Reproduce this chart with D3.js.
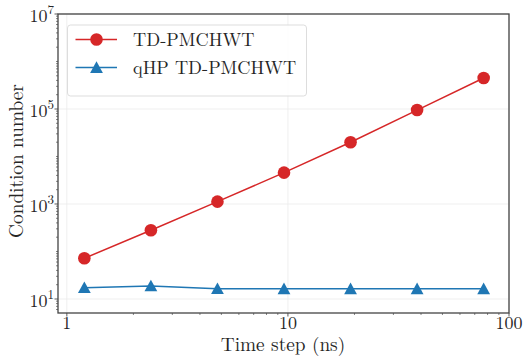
<!DOCTYPE html>
<html>
<head>
<meta charset="utf-8">
<script src="https://cdn.jsdelivr.net/npm/d3@7/dist/d3.min.js"></script>
<style>
  html, body { margin: 0; padding: 0; background: #fff; }
</style>
</head>
<body>
<div id="chart"></div>
<script>
// time steps (ns) and condition numbers
var timeSteps = [1.2, 2.4, 4.8, 9.6, 19.2, 38.4, 76.8];
var condStandard = [72, 280, 1120, 4570, 20000, 95000, 450000];
var condQHP = [17.3, 18.8, 16.5, 16.4, 16.4, 16.4, 16.4];
var seriesNames = ["TD-PMCHWT", "qHP TD-PMCHWT"];
var xTickVals = [1, 10, 100];
var xTickLabels = ["1", "10", "100"];
var yTickExps = [1, 3, 5, 7];

var width = 525, height = 357;
var margin = {top: 14, right: 16, bottom: 44, left: 58};
var serif = "Latin Modern Roman";
var ink = "#262626";

var svg = d3.select("#chart").append("svg")
  .attr("width", width)
  .attr("height", height);

var x = d3.scaleLog().domain([0.912, 100]).range([margin.left, width - margin.right]);
var y = d3.scaleLog().domain([5.07, 1e7]).range([height - margin.bottom, margin.top]);

var x0 = margin.left, x1 = width - margin.right;
var y0 = height - margin.bottom, y1 = margin.top;

// grid
var grid = svg.append("g").attr("stroke", "#ebebeb").attr("stroke-width", 0.8);
grid.selectAll(".gx").data(xTickVals).enter().append("line")
  .attr("x1", function(d) { return x(d); }).attr("x2", function(d) { return x(d); })
  .attr("y1", y0).attr("y2", y1);
grid.selectAll(".gy").data(yTickExps).enter().append("line")
  .attr("y1", function(d) { return y(Math.pow(10, d)); }).attr("y2", function(d) { return y(Math.pow(10, d)); })
  .attr("x1", x0).attr("x2", x1);

// minor ticks
var xMinor = [];
[1, 10].forEach(function(b) { for (var k = 2; k <= 9; k++) xMinor.push(b * k); });
svg.append("g").selectAll("line").data(xMinor).enter().append("line")
  .attr("x1", function(d) { return x(d); }).attr("x2", function(d) { return x(d); })
  .attr("y1", y0).attr("y2", y0 + 2)
  .attr("stroke", "#333").attr("stroke-width", 0.6);

var yMinor = [];
for (var e = 0; e <= 6; e++) {
  for (var k = 1; k <= 9; k++) {
    var v = k * Math.pow(10, e);
    if (v > 5.07 && v < 1e7 && !(k === 1 && e % 2 === 1)) yMinor.push(v);
  }
}
svg.append("g").selectAll("line").data(yMinor).enter().append("line")
  .attr("y1", function(d) { return y(d); }).attr("y2", function(d) { return y(d); })
  .attr("x1", x0).attr("x2", x0 - 2)
  .attr("stroke", "#333").attr("stroke-width", 0.6);

// major ticks
svg.append("g").selectAll("line").data(xTickVals).enter().append("line")
  .attr("x1", function(d) { return x(d); }).attr("x2", function(d) { return x(d); })
  .attr("y1", y0).attr("y2", y0 + 3.5)
  .attr("stroke", "#333").attr("stroke-width", 0.8);
svg.append("g").selectAll("line").data(yTickExps).enter().append("line")
  .attr("y1", function(d) { return y(Math.pow(10, d)); }).attr("y2", function(d) { return y(Math.pow(10, d)); })
  .attr("x1", x0).attr("x2", x0 - 3.5)
  .attr("stroke", "#333").attr("stroke-width", 0.8);

// tick labels
svg.append("g").selectAll("text").data(xTickVals).enter().append("text")
  .attr("x", function(d) { return x(d); })
  .attr("y", y0 + 16)
  .attr("text-anchor", "middle")
  .attr("font-family", serif)
  .attr("font-size", 18)
  .attr("fill", ink)
  .text(function(d, i) { return xTickLabels[i]; });

var yl = svg.append("g").selectAll("text").data(yTickExps).enter().append("text")
  .attr("x", x0 - 4)
  .attr("y", function(d) { return y(Math.pow(10, d)) + 8; })
  .attr("text-anchor", "end")
  .attr("font-family", serif)
  .attr("font-size", 18)
  .attr("fill", ink);
yl.append("tspan").text("10");
yl.append("tspan").attr("dy", -8).attr("font-size", 13).text(function(d) { return d; });

// axis labels
svg.append("text")
  .attr("x", 283)
  .attr("y", height - 6)
  .attr("text-anchor", "middle")
  .attr("font-family", serif)
  .attr("font-size", 19.3)
  .attr("fill", ink)
  .text("Time step (ns)");
svg.append("text")
  .attr("transform", "translate(23," + 161 + ") rotate(-90)")
  .attr("text-anchor", "middle")
  .attr("font-family", serif)
  .attr("font-size", 19.3)
  .attr("fill", ink)
  .text("Condition number");

// lines and markers
var red = "#d62728", blue = "#1f77b4";
var line = d3.line()
  .x(function(d) { return x(d[0]); })
  .y(function(d) { return y(d[1]); });

var dataA = d3.zip(timeSteps, condStandard);
var dataB = d3.zip(timeSteps, condQHP);

svg.append("path").datum(dataA).attr("d", line)
  .attr("fill", "none").attr("stroke", red).attr("stroke-width", 1.5);
svg.append("path").datum(dataB).attr("d", line)
  .attr("fill", "none").attr("stroke", blue).attr("stroke-width", 1.5);

var triPath = "M0,-6.2L6.4,5.4L-6.4,5.4Z";

svg.append("g").selectAll("circle").data(dataA).enter().append("circle")
  .attr("cx", function(d) { return x(d[0]); })
  .attr("cy", function(d) { return y(d[1]); })
  .attr("r", 6.3)
  .attr("fill", red);
svg.append("g").selectAll("path").data(dataB).enter().append("path")
  .attr("transform", function(d) { return "translate(" + x(d[0]) + "," + y(d[1]) + ")"; })
  .attr("d", triPath)
  .attr("fill", blue);

// frame
svg.append("rect")
  .attr("x", x0).attr("y", y1)
  .attr("width", x1 - x0).attr("height", y0 - y1)
  .attr("fill", "none").attr("stroke", "#444").attr("stroke-width", 1.3);

// legend
var lg = svg.append("g");
lg.append("rect")
  .attr("x", 67.5).attr("y", 25).attr("width", 239).attr("height", 71)
  .attr("rx", 3).attr("fill", "#fff").attr("fill-opacity", 0.85)
  .attr("stroke", "#d9d9d9").attr("stroke-width", 0.9);
var legendRows = [
  {name: seriesNames[0], color: red, marker: "circle", yy: 39.5},
  {name: seriesNames[1], color: blue, marker: "tri", yy: 67.5}
];
legendRows.forEach(function(r) {
  lg.append("line").attr("x1", 75.5).attr("x2", 117).attr("y1", r.yy).attr("y2", r.yy)
    .attr("stroke", r.color).attr("stroke-width", 1.5);
  if (r.marker === "circle") {
    lg.append("circle").attr("cx", 96.5).attr("cy", r.yy).attr("r", 6.3).attr("fill", r.color);
  } else {
    lg.append("path").attr("transform", "translate(96.5," + r.yy + ")").attr("d", triPath).attr("fill", r.color);
  }
  lg.append("text").attr("x", 133).attr("y", r.yy + 6).attr("font-size", 18.3)
    .attr("font-family", serif)
    .attr("fill", ink).text(r.name);
});
</script>
</body>
</html>
